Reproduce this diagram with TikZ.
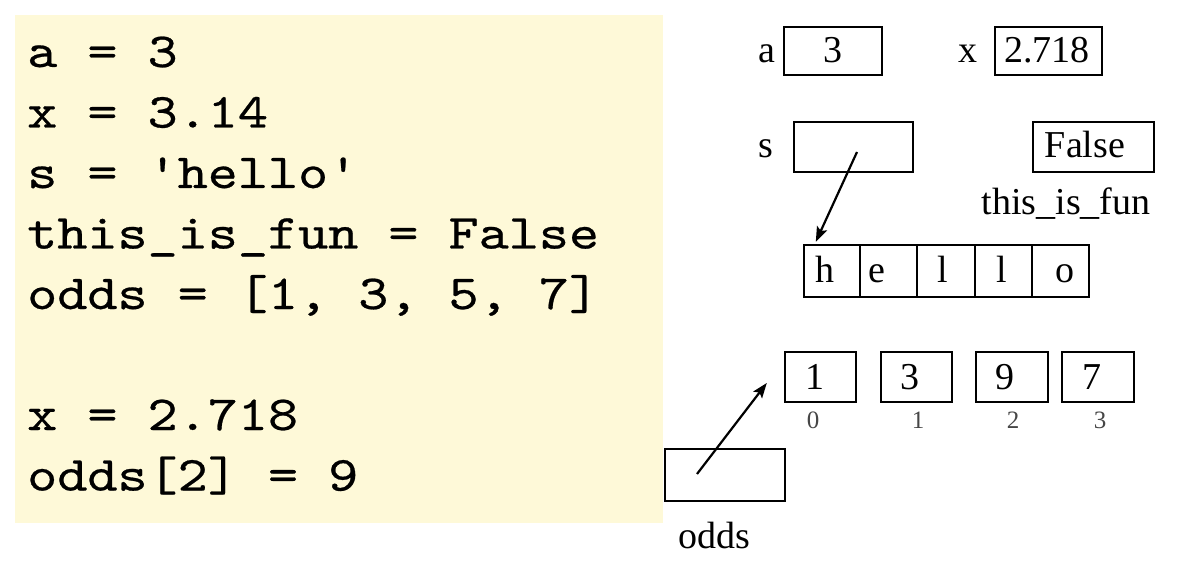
\documentclass[tikz,border=0pt]{standalone}
\usepackage{fontspec}
\setmainfont{Liberation Serif}
\newfontfamily\codefont[FakeStretch=1.17,FakeBold=0.5]{lmmono10-regular.otf}
\usetikzlibrary{arrows.meta,calc}
\definecolor{codebg}{RGB}{254,249,216}
\definecolor{idxgray}{RGB}{70,70,70}
\begin{document}
\begin{tikzpicture}[x=1pt,y=-1pt,
  code/.style={anchor=base west,inner sep=0pt,font=\codefont\fontsize{49}{58}\selectfont},
  lbl/.style={anchor=base,inner sep=0pt,font=\fontsize{38}{44}\selectfont},
  idx/.style={anchor=base,inner sep=0pt,text=idxgray,font=\fontsize{25}{30}\selectfont},
  cell/.style={draw,line width=2.4pt,inner sep=0pt,minimum height=#1},
  cell/.default=50,
  ptr/.style={line width=2.2pt,-{Stealth[length=15pt,width=11pt,inset=3pt]}}]
\useasboundingbox (0,0) rectangle (1192,580);
\fill[codebg] (15,15) rectangle (663,523);
% code
\node[code] (c1) at (27,67) {a = 3};
\node[code] (c2) at (27,127.5) {x = 3.14};
\node[code] (c3) at (27,188) {s = 'hello'};
\node[code] (c4) at (27,248.5) {this\_is\_fun = False};
\node[code] (c5) at (27,309) {odds = [1, 3, 5, 7]};
\node[code] (c6) at (27,430) {x = 2.718};
\node[code] (c7) at (27,490.5) {odds[2] = 9};
% variables a and x
\node[cell=48,minimum width=98] (va) at (833,51) {};
\node[lbl] (va3) at (833,63) {3};
\node[lbl] (la) at (767,63) {a};
\node[cell=48,minimum width=107] (vx) at (1048.5,51) {};
\node[lbl] (vxv) at (1047,63) {2.718};
\node[lbl] (lx) at (968,63) {x};
% s and this_is_fun
\node[cell=50,minimum width=119] (vs) at (853.5,147) {};
\node[lbl] (ls) at (766,158) {s};
\node[cell=50,minimum width=121] (vf) at (1093.5,147) {};
\node[lbl] (vfv) at (1085,158) {False};
\node[lbl] (lf) at (1066,215) {this\_is\_fun};
% hello cells
\node[cell=52,minimum width=56] (h1) at (832,271) {};
\node[cell=52,minimum width=57] (h2) at (888.5,271) {};
\node[cell=52,minimum width=58] (h3) at (946,271) {};
\node[cell=52,minimum width=57] (h4) at (1003.5,271) {};
\node[cell=52,minimum width=57] (h5) at (1060.5,271) {};
\node[lbl] (t1) at (825,283) {h};
\node[lbl] (t2) at (877,283) {e};
\node[lbl] (t3) at (943,283) {l};
\node[lbl] (t4) at (1002,283) {l};
\node[lbl] (t5) at (1065,283) {o};
\coordinate (sptr) at ($(vs.center)+(3.5,5)$);
\coordinate (htip) at ($(h1.north west)+(13,-2)$);
\draw[ptr] (sptr) -- (htip);
% list
\node[cell=50,minimum width=71] (b1) at (820.5,377) {};
\node[cell=50,minimum width=71] (b2) at (916.5,377) {};
\node[cell=50,minimum width=72] (b3) at (1012,377) {};
\node[cell=50,minimum width=72] (b4) at (1098,377) {};
\node[lbl] (e1) at (815,389) {1};
\node[lbl] (e2) at (910,389) {3};
\node[lbl] (e3) at (1005,389) {9};
\node[lbl] (e4) at (1092,389) {7};
\node[idx] (i0) at (813,428) {0};
\node[idx] (i1) at (918,428) {1};
\node[idx] (i2) at (1013,428) {2};
\node[idx] (i3) at (1100,428) {3};
\node[cell=52,minimum width=120] (vo) at (725,475) {};
\node[lbl] (lo) at (714,548) {odds};
\coordinate (optr) at ($(vo.center)+(-28,-1)$);
\coordinate (otip) at ($(b1.west)+(-17,6)$);
\draw[ptr] (optr) -- (otip);
\end{tikzpicture}
\end{document}
